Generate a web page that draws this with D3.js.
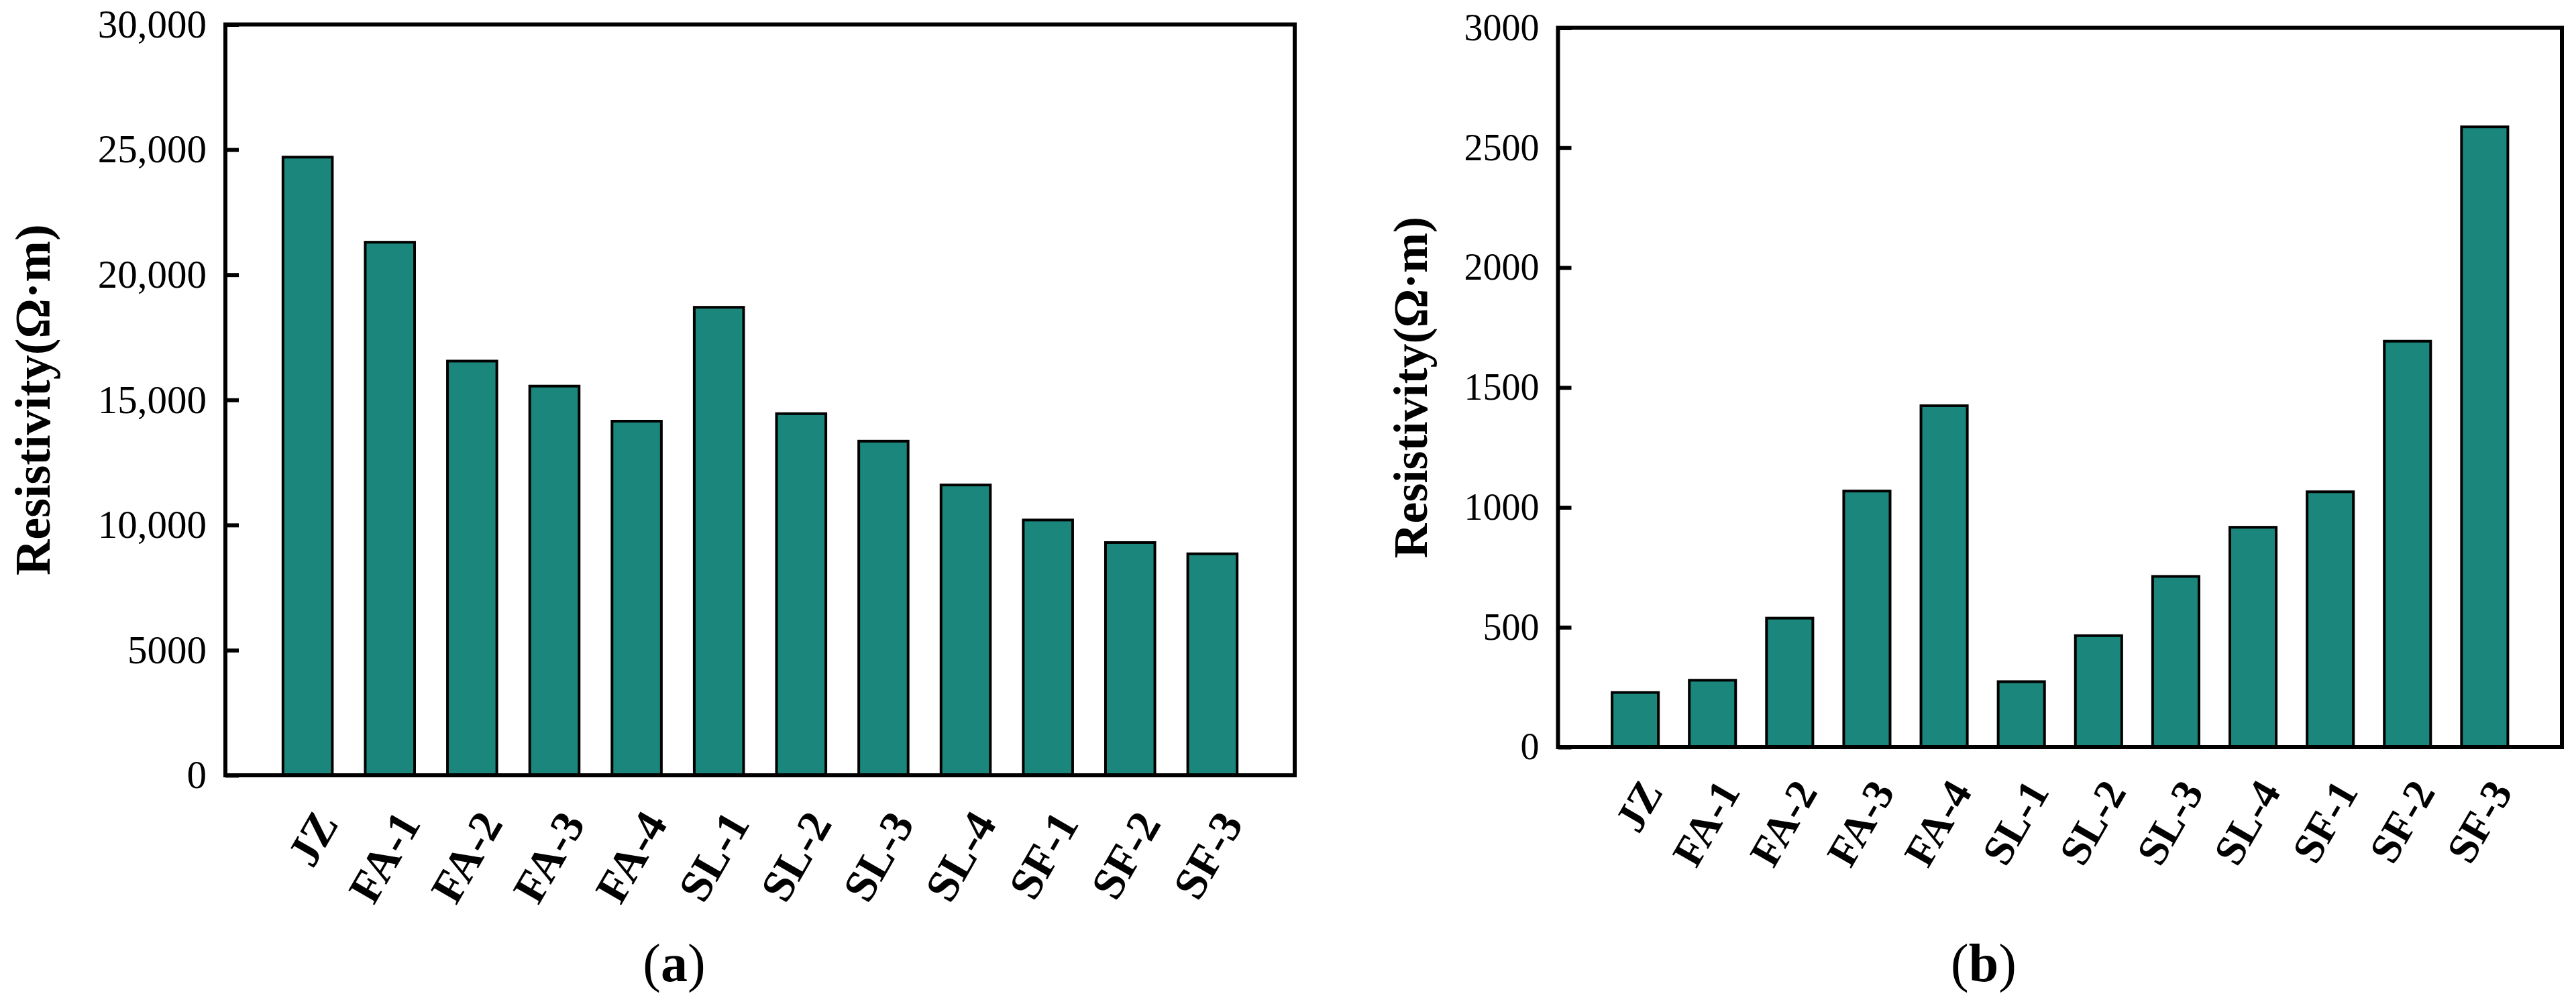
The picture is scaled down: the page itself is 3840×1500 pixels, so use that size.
<!DOCTYPE html>
<html>
<head>
<meta charset="utf-8">
<script src="https://cdn.jsdelivr.net/npm/d3@7"></script>
<style>
  html, body { margin: 0; padding: 0; background: #fff; }
  svg { display: block; }
  text { font-family: "Liberation Serif", "Times New Roman", serif; }
</style>
</head>
<body>
<svg id="chart" width="3840" height="1500"></svg>
<script>
// ---- data ----
const categories = ["JZ", "FA-1", "FA-2", "FA-3", "FA-4", "SL-1", "SL-2", "SL-3", "SL-4", "SF-1", "SF-2", "SF-3"];
const resistivityA = [24700, 21300, 16550, 15550, 14150, 18700, 14450, 13350, 11600, 10200, 9300, 8850];
const resistivityB = [228, 279, 538, 1068, 1424, 273, 465, 712, 917, 1065, 1693, 2587];
const ticksA = [0, 5000, 10000, 15000, 20000, 25000, 30000];
const tickLabelsA = ["0", "5000", "10,000", "15,000", "20,000", "25,000", "30,000"];
const ticksB = [0, 500, 1000, 1500, 2000, 2500, 3000];
const tickLabelsB = ["0", "500", "1000", "1500", "2000", "2500", "3000"];
const yTitle = "Resistivity(Ω·m)";
const panelLabels = ["a", "b"];

const barColor = "#1b877c";
const svg = d3.select("#chart");

function panel(cfg) {
  const { x0, x1, yTop, yBot, values, ticks, tickLabels, yMax, titleX, titleSize, tickSize, labelSize, capX, capLabel, lblDx, lblDy } = cfg;
  const x = d3.scaleLinear().domain([0, categories.length + 1]).range([x0, x1]);
  const y = d3.scaleLinear().domain([0, yMax]).range([yBot, yTop]);
  const pitch = x(1) - x(0);
  const bw = pitch * 0.6;
  const g = svg.append("g");

  // bars
  g.selectAll("rect.bar").data(values).join("rect")
    .attr("class", "bar")
    .attr("x", (d, i) => x(i + 1) - bw / 2)
    .attr("width", bw)
    .attr("y", d => y(d))
    .attr("height", d => y(0) - y(d))
    .attr("fill", barColor)
    .attr("stroke", "#000")
    .attr("stroke-width", 4);

  // y axis (inward ticks)
  const ax = d3.axisLeft(y).tickValues(ticks)
    .tickFormat((d, i) => tickLabels[i])
    .tickSize(-20).tickPadding(28);
  const ag = g.append("g").attr("transform", `translate(${x0},0)`).call(ax);
  ag.select(".domain").remove();
  ag.selectAll(".tick line").attr("stroke", "#000").attr("stroke-width", 6);
  ag.selectAll(".tick text").attr("font-size", tickSize).attr("fill", "#000")
    .attr("font-family", "Liberation Serif");

  // frame
  g.append("rect").attr("x", x0).attr("y", yTop).attr("width", x1 - x0).attr("height", yBot - yTop)
    .attr("fill", "none").attr("stroke", "#000").attr("stroke-width", 6);

  // x labels rotated
  g.selectAll("text.xl").data(categories).join("text")
    .attr("class", "xl")
    .attr("text-anchor", "end")
    .attr("font-weight", "bold")
    .attr("font-size", labelSize)
    .attr("transform", (d, i) => `translate(${x(i + 1) + lblDx},${yBot + lblDy}) rotate(-60)`)
    .attr("dy", "0.7em")
    .text(d => d);

  // y title
  g.append("text")
    .attr("transform", `translate(${titleX},${(yTop + yBot) / 2}) rotate(-90)`)
    .attr("text-anchor", "middle")
    .attr("font-weight", "bold")
    .attr("font-size", titleSize)
    .text(yTitle);

  // caption
  const cap = g.append("text").attr("x", capX).attr("y", 1463).attr("text-anchor", "middle")
    .attr("font-size", 80);
  cap.append("tspan").text("(");
  cap.append("tspan").attr("font-weight", "bold").text(capLabel);
  cap.append("tspan").text(")");
}

panel({ x0: 336, x1: 1930, yTop: 36.5, yBot: 1156, values: resistivityA, ticks: ticksA, tickLabels: tickLabelsA,
  yMax: 30000, titleX: 74, titleSize: 74, tickSize: 59, labelSize: 68, capX: 1005, capLabel: panelLabels[0], lblDx: 6, lblDy: 48 });
panel({ x0: 2322.5, x1: 3819, yTop: 41.5, yBot: 1114, values: resistivityB, ticks: ticksB, tickLabels: tickLabelsB,
  yMax: 3000, titleX: 2127, titleSize: 72, tickSize: 56, labelSize: 64, capX: 2957, capLabel: panelLabels[1], lblDx: 4, lblDy: 44 });
</script>
</body>
</html>
